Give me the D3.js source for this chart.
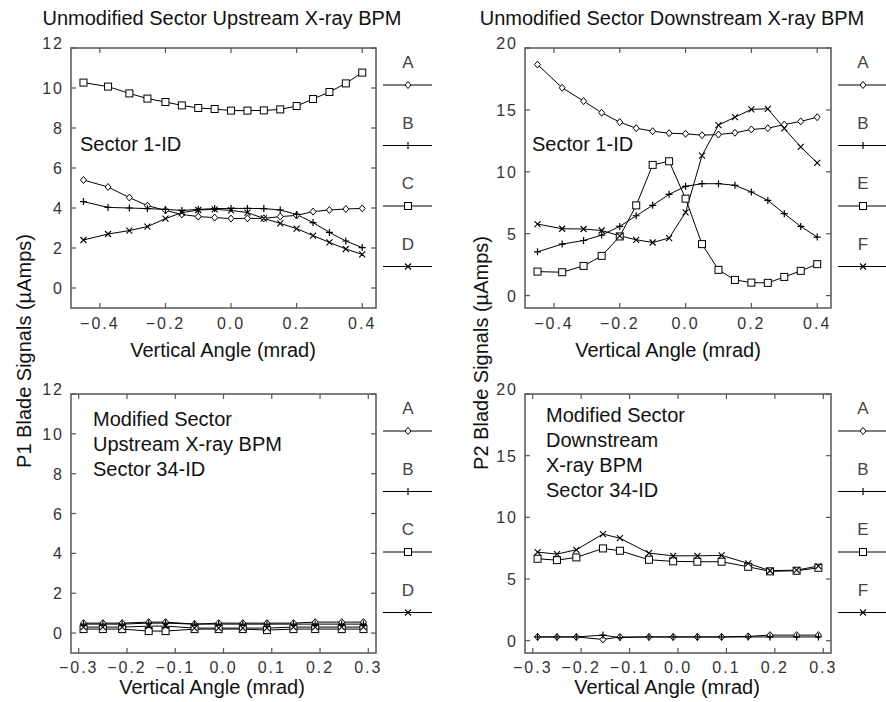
<!DOCTYPE html>
<html>
<head>
<meta charset="utf-8">
<script src="https://cdn.jsdelivr.net/npm/d3@7"></script>
<style>
  html, body { margin: 0; padding: 0; background: #fff; }
  svg { display: block; font-family: "Liberation Sans", Arial, sans-serif; }
</style>
</head>
<body>
<svg id="chart" width="886" height="702"></svg>
<script>
// Vertical angle scan positions (mrad)
const anglesUnmodified = [-0.45, -0.375, -0.31, -0.255, -0.2, -0.15, -0.1, -0.05, 0, 0.05, 0.1, 0.15, 0.2, 0.25, 0.3, 0.35, 0.4];
const anglesModified = [-0.29, -0.25, -0.21, -0.155, -0.12, -0.06, -0.01, 0.04, 0.09, 0.145, 0.19, 0.245, 0.29];

// P1 blade signals, unmodified sector (µA)
const p1UnmodA = [5.4, 5.05, 4.52, 4.12, 3.88, 3.68, 3.57, 3.52, 3.47, 3.48, 3.48, 3.57, 3.63, 3.82, 3.9, 3.95, 3.98];
const p1UnmodB = [4.32, 4.03, 4.0, 3.97, 3.93, 3.88, 3.93, 3.97, 3.98, 3.98, 3.97, 3.9, 3.68, 3.27, 2.78, 2.35, 2.02];
const p1UnmodC = [10.27, 10.07, 9.73, 9.47, 9.3, 9.13, 9.0, 8.95, 8.87, 8.87, 8.88, 8.93, 9.1, 9.45, 9.8, 10.23, 10.77];
const p1UnmodD = [2.4, 2.7, 2.87, 3.07, 3.47, 3.77, 3.9, 3.93, 3.88, 3.77, 3.48, 3.23, 2.97, 2.62, 2.28, 1.95, 1.68];

// P2 blade signals, unmodified sector (µA)
const p2UnmodA = [18.66, 16.79, 15.71, 14.77, 14.01, 13.52, 13.28, 13.12, 13.07, 12.96, 13.01, 13.15, 13.42, 13.52, 13.82, 14.07, 14.41];
const p2UnmodB = [3.54, 4.16, 4.45, 4.89, 5.59, 6.45, 7.29, 8.18, 8.83, 9.04, 9.04, 8.91, 8.37, 7.69, 6.62, 5.59, 4.73];
const p2UnmodE = [1.94, 1.89, 2.4, 3.21, 4.78, 7.29, 10.56, 10.85, 7.83, 4.16, 2.08, 1.27, 1.05, 1.03, 1.51, 2.0, 2.54];
const p2UnmodF = [5.78, 5.4, 5.38, 5.26, 4.83, 4.51, 4.29, 4.65, 6.72, 11.31, 13.77, 14.41, 15.04, 15.09, 13.5, 12.02, 10.72];

// P1 blade signals, modified sector (µA)
const p1ModA = [0.5, 0.5, 0.5, 0.55, 0.55, 0.45, 0.5, 0.5, 0.5, 0.5, 0.55, 0.55, 0.55];
const p1ModB = [0.45, 0.45, 0.45, 0.5, 0.5, 0.45, 0.45, 0.45, 0.45, 0.45, 0.45, 0.45, 0.45];
const p1ModC = [0.2, 0.2, 0.2, 0.1, 0.1, 0.2, 0.2, 0.2, 0.15, 0.2, 0.2, 0.2, 0.2];
const p1ModD = [0.3, 0.3, 0.3, 0.35, 0.35, 0.25, 0.25, 0.25, 0.25, 0.3, 0.3, 0.3, 0.3];

// P2 blade signals, modified sector (µA)
const p2ModA = [0.3, 0.3, 0.3, 0.1, 0.3, 0.3, 0.3, 0.3, 0.3, 0.35, 0.45, 0.45, 0.45];
const p2ModB = [0.3, 0.3, 0.3, 0.45, 0.25, 0.3, 0.3, 0.3, 0.3, 0.3, 0.3, 0.3, 0.3];
const p2ModE = [6.64, 6.53, 6.75, 7.48, 7.29, 6.56, 6.43, 6.4, 6.4, 5.99, 5.62, 5.67, 5.91];
const p2ModF = [7.18, 7.02, 7.37, 8.64, 8.31, 7.1, 6.88, 6.88, 6.91, 6.27, 5.67, 5.72, 6.05];

// Tick values
const xTicksUnmodified = [-0.4, -0.2, 0.0, 0.2, 0.4];
const xTicksModified = [-0.3, -0.2, -0.1, 0.0, 0.1, 0.2, 0.3];
const yTicksP1 = [0, 2, 4, 6, 8, 10, 12];
const yTicksP2 = [0, 5, 10, 15, 20];

const legendP1 = ["A", "B", "C", "D"];
const legendP2 = ["A", "B", "E", "F"];
const markerKinds = ["diamond", "plus", "square", "cross"];

const panels = [
  { left: 71, top: 48, right: 376, bottom: 308, xDomain: [-0.488, 0.442], yDomain: [-1, 12],
    xTicks: xTicksUnmodified, yTicks: yTicksP1, xs: anglesUnmodified,
    series: [p1UnmodA, p1UnmodB, p1UnmodC, p1UnmodD], legend: legendP1,
    title: "Unmodified Sector Upstream X-ray BPM", titleX: 222,
    notes: ["Sector 1-ID"], noteX: 80, noteY: 151, labelX: 223, tickGap: 21, labelGap: 49 },
  { left: 525, top: 48, right: 831, bottom: 308, xDomain: [-0.488, 0.442], yDomain: [-1, 20],
    xTicks: xTicksUnmodified, yTicks: yTicksP2, xs: anglesUnmodified,
    series: [p2UnmodA, p2UnmodB, p2UnmodE, p2UnmodF], legend: legendP2,
    title: "Unmodified Sector Downstream X-ray BPM", titleX: 672,
    notes: ["Sector 1-ID"], noteX: 532, noteY: 151, labelX: 668, tickGap: 21, labelGap: 49 },
  { left: 71, top: 394, right: 376, bottom: 653, xDomain: [-0.316, 0.316], yDomain: [-1, 12],
    xTicks: xTicksModified, yTicks: yTicksP1, xs: anglesModified,
    series: [p1ModA, p1ModB, p1ModC, p1ModD], legend: legendP1,
    notes: ["Modified Sector", "Upstream X-ray BPM", "Sector 34-ID"], noteX: 93, noteY: 426,
    labelX: 212, tickGap: 20, labelGap: 41 },
  { left: 525, top: 394, right: 831, bottom: 653, xDomain: [-0.316, 0.316], yDomain: [-1, 20],
    xTicks: xTicksModified, yTicks: yTicksP2, xs: anglesModified,
    series: [p2ModA, p2ModB, p2ModE, p2ModF], legend: legendP2,
    notes: ["Modified Sector", "Downstream", "X-ray BPM", "Sector 34-ID"], noteX: 546, noteY: 422,
    labelX: 667, tickGap: 20, labelGap: 41 }
];

const svg = d3.select("#chart");
const frameColor = "#555";
const tickFont = 16;

// Open marker drawing
function drawMarker(g, kind, x, y) {
  if (kind === "diamond") {
    g.append("path").attr("d", `M${x},${y - 3.5}L${x + 3},${y}L${x},${y + 3.5}L${x - 3},${y}Z`)
      .attr("fill", "#fff").attr("stroke", "#000").attr("stroke-width", 1);
  } else if (kind === "square") {
    g.append("rect").attr("x", x - 3.5).attr("y", y - 3.5).attr("width", 7).attr("height", 7)
      .attr("fill", "#fff").attr("stroke", "#000").attr("stroke-width", 1);
  } else if (kind === "plus") {
    g.append("path").attr("d", `M${x - 3.5},${y}H${x + 3.5}M${x},${y - 3.5}V${y + 3.5}`)
      .attr("stroke", "#000").attr("stroke-width", 1.2);
  } else {
    g.append("path").attr("d", `M${x - 3},${y - 3}L${x + 3},${y + 3}M${x - 3},${y + 3}L${x + 3},${y - 3}`)
      .attr("stroke", "#000").attr("stroke-width", 1.1);
  }
}

function fmtTick(v) {
  const s = (Math.abs(v) < 1e-9 ? 0 : v).toFixed(1);
  return s.replace("-", "\u2212");
}

panels.forEach(p => {
  const x = d3.scaleLinear().domain(p.xDomain).range([p.left, p.right]);
  const y = d3.scaleLinear().domain(p.yDomain).range([p.bottom, p.top]);
  const g = svg.append("g");

  // frame
  g.append("rect").attr("x", p.left).attr("y", p.top)
    .attr("width", p.right - p.left).attr("height", p.bottom - p.top)
    .attr("fill", "none").attr("stroke", frameColor).attr("stroke-width", 1.5);

  // inward ticks on all sides
  const tl = 5;
  p.xTicks.forEach(t => {
    const xx = x(t);
    g.append("line").attr("x1", xx).attr("x2", xx).attr("y1", p.bottom).attr("y2", p.bottom - tl)
      .attr("stroke", frameColor).attr("stroke-width", 1.2);
    g.append("line").attr("x1", xx).attr("x2", xx).attr("y1", p.top).attr("y2", p.top + tl)
      .attr("stroke", frameColor).attr("stroke-width", 1.2);
    g.append("text").attr("x", xx).attr("y", p.bottom + p.tickGap)
      .attr("text-anchor", "middle").attr("font-size", tickFont)
      .attr("letter-spacing", 2).attr("fill", "#333").text(fmtTick(t));
  });
  p.yTicks.forEach((t, i) => {
    const yy = y(t);
    g.append("line").attr("x1", p.left).attr("x2", p.left + tl).attr("y1", yy).attr("y2", yy)
      .attr("stroke", frameColor).attr("stroke-width", 1.2);
    g.append("line").attr("x1", p.right).attr("x2", p.right - tl).attr("y1", yy).attr("y2", yy)
      .attr("stroke", frameColor).attr("stroke-width", 1.2);
    const isTop = i === p.yTicks.length - 1;
    g.append("text").attr("x", p.left - 7).attr("y", yy + (isTop ? 1 : 6))
      .attr("text-anchor", "end").attr("font-size", tickFont)
      .attr("letter-spacing", 2).attr("fill", "#333").text(String(t));
  });

  // data lines and markers
  const line = d3.line().x(d => x(d[0])).y(d => y(d[1]));
  p.series.forEach(vals => {
    const pts = p.xs.map((a, k) => [a, vals[k]]);
    g.append("path").attr("d", line(pts)).attr("fill", "none")
      .attr("stroke", "#000").attr("stroke-width", 1);
  });
  p.series.forEach((vals, si) => {
    const mg = g.append("g");
    p.xs.forEach((a, k) => drawMarker(mg, markerKinds[si], x(a), y(vals[k])));
  });

  // legend at the right of the frame
  p.legend.forEach((name, i) => {
    const ly = p.top + 37 + i * 60.5;
    g.append("line").attr("x1", p.right + 7).attr("x2", p.right + 56)
      .attr("y1", ly).attr("y2", ly).attr("stroke", "#000").attr("stroke-width", 1);
    drawMarker(g, markerKinds[i], p.right + 32, ly);
    g.append("text").attr("x", p.right + 32).attr("y", ly - 17)
      .attr("text-anchor", "middle").attr("font-size", 17).attr("fill", "#444").text(name);
  });

  // panel annotations
  p.notes.forEach((s, i) => {
    g.append("text").attr("x", p.noteX).attr("y", p.noteY + i * 25)
      .attr("font-size", 20).attr("fill", "#111").text(s);
  });

  // x-axis label
  g.append("text").attr("x", p.labelX).attr("y", p.bottom + p.labelGap)
    .attr("text-anchor", "middle").attr("font-size", 20).attr("fill", "#111")
    .text("Vertical Angle (mrad)");

  if (p.title) {
    g.append("text").attr("x", p.titleX).attr("y", 25)
      .attr("text-anchor", "middle").attr("font-size", 20).attr("fill", "#111").text(p.title);
  }
});

// y-axis labels
svg.append("text").attr("transform", "translate(31,351) rotate(-90)")
  .attr("text-anchor", "middle").attr("font-size", 20).attr("fill", "#111")
  .text("P1 Blade Signals (\u00b5Amps)");
svg.append("text").attr("transform", "translate(488,353) rotate(-90)")
  .attr("text-anchor", "middle").attr("font-size", 20).attr("fill", "#111")
  .text("P2 Blade Signals (\u00b5Amps)");
</script>
</body>
</html>
